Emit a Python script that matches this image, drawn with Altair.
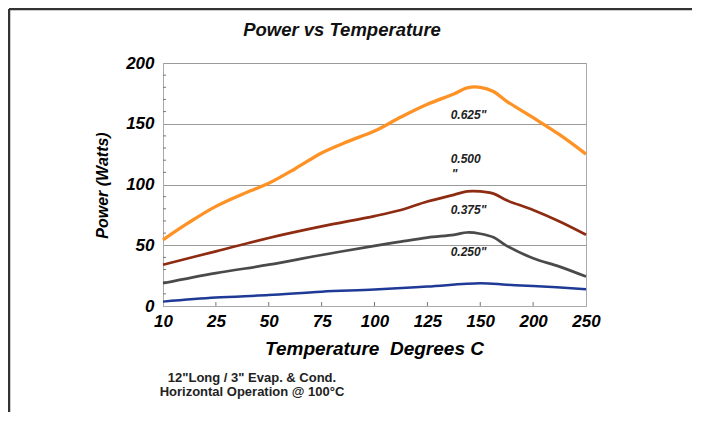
import altair as alt
import pandas as pd

# ---------------- data ----------------
temp_labels = ["10", "25", "50", "75", "100", "125", "150", "200", "250"]

orange_x = [0, 0.5, 1, 1.5, 2, 2.5, 3, 3.5, 4, 4.5, 5, 5.5, 5.75, 6, 6.25, 6.5, 7, 7.5, 8]
orange_y = [54.5, 69, 82, 92, 101, 113, 126, 135.5, 144, 155.5, 166, 174.5, 179.5, 180, 176.5, 168.5, 155, 141, 125]

brown_x = [0, 1, 2, 3, 4, 4.5, 5, 5.5, 5.75, 6, 6.25, 6.5, 7, 7.5, 8]
brown_y = [34, 45, 56, 65.5, 74, 79, 86, 91.5, 94.3, 94.3, 92.5, 87, 79, 69.5, 58.6]

gray_x = [0, 1, 2, 3, 4, 4.5, 5, 5.5, 5.75, 6, 6.25, 6.5, 7, 7.5, 8]
gray_y = [18.7, 27, 34, 42, 49.5, 53, 56.3, 58.6, 60.5, 59.5, 56.5, 49.5, 39.3, 32.4, 24.2]

blue_x = [0, 1, 2, 3, 4, 5, 6, 6.5, 7, 8]
blue_y = [3.6, 6.9, 9, 11.8, 13.5, 16, 18.7, 17.5, 16.5, 13.8]

series_names = ["s_orange", "s_brown", "s_gray", "s_blue"]
series_colors = ["#FF9224", "#8E2C12", "#4a4a4a", "#1E3A96"]
series_widths = [3.3, 2.7, 2.7, 2.5]

label_text = ['0.625"', "0.500", '"', '0.375"', '0.250"']
label_x = [5.44, 5.44, 5.46, 5.44, 5.44]
label_y = [157.5, 121, 109, 79, 44.5]

y_minor = [10, 20, 30, 40, 60, 70, 80, 90, 110, 120, 130, 140, 160, 170, 180, 190]
x_ticks = [1, 2, 3, 4, 5, 6, 7]

title_text = "Power vs Temperature"
footnote = ['12"Long / 3" Evap. & Cond.', "Horizontal Operation @ 100\u00b0C"]

# ---------------- build tables ----------------
rows = []
for name, xs, ys, sw in zip(series_names,
                            [orange_x, brown_x, gray_x, blue_x],
                            [orange_y, brown_y, gray_y, blue_y],
                            series_widths):
    for xv, yv in zip(xs, ys):
        rows.append({"series": name, "idx": xv, "power": yv, "sw": sw})
df = pd.DataFrame(rows)
df_labels = pd.DataFrame({"text": label_text, "idx": label_x, "power": label_y})
df_minor = pd.DataFrame({"power": y_minor})
df_xt = pd.DataFrame({"idx": x_ticks})
df_foot = pd.DataFrame({"text": footnote, "row": [0, 1]})
df_title = pd.DataFrame({"text": [title_text]})

W, H = 423, 243
FONT = "Liberation Sans"

label_expr = "[" + ",".join("'%s'" % t for t in temp_labels) + "][datum.value]"

x_enc = alt.X("idx:Q",
              scale=alt.Scale(domain=[0, 8], nice=False, zero=False),
              axis=alt.Axis(values=list(range(9)), labelExpr=label_expr,
                            title="Temperature\u00a0\u00a0Degrees C", grid=False, ticks=False,
                            labelFontSize=17, labelFont=FONT, labelFontWeight="bold",
                            labelFontStyle="italic", labelColor="black", labelPadding=7,
                            labelFlush=False,
                            titleFontSize=19, titleFont=FONT, titleFontWeight="bold",
                            titleFontStyle="italic", titleColor="black",
                            titleX=211, titleY=42, titleBaseline="middle",
                            domainColor="#aaaaaa"))
y_enc = alt.Y("power:Q",
              scale=alt.Scale(domain=[0, 200], nice=False),
              axis=alt.Axis(values=[0, 50, 100, 150, 200], title="Power (Watts)",
                            grid=True, gridColor="#9a9a9a", gridWidth=1, ticks=False,
                            labelFontSize=17, labelFont=FONT, labelFontWeight="bold",
                            labelFontStyle="italic", labelColor="black", labelPadding=9,
                            labelFlush=False,
                            titleFontSize=16, titleFont=FONT, titleFontWeight="bold",
                            titleFontStyle="italic", titleColor="black",
                            titleX=-61, titleY=122, titleBaseline="middle",
                            domainColor="#aaaaaa"))

lines = alt.Chart(df).mark_line(interpolate="catmull-rom").encode(
    x=x_enc, y=y_enc,
    color=alt.Color("series:N", scale=alt.Scale(domain=series_names, range=series_colors),
                    legend=None),
    strokeWidth=alt.StrokeWidth("sw:Q", scale=None, legend=None),
    detail="series:N",
)

labels = alt.Chart(df_labels).mark_text(
    align="left", baseline="middle", font=FONT, fontSize=12,
    fontWeight="bold", fontStyle="italic", color="#222"
).encode(x="idx:Q", y="power:Q", text="text:N")

yticks = alt.Chart(df_minor).mark_rule(color="#777", strokeWidth=1).encode(
    y="power:Q", x=alt.value(0), x2=alt.value(3))

xticks = alt.Chart(df_xt).mark_rule(color="#777", strokeWidth=1).encode(
    x="idx:Q", y=alt.value(H), y2=alt.value(H - 4))

title = alt.Chart(df_title).mark_text(
    align="center", baseline="middle", font=FONT, fontSize=18.5, fontWeight="bold",
    fontStyle="italic", color="#111"
).encode(x=alt.value(342 - 163), y=alt.value(30 - 63), text="text:N")

foot = alt.Chart(df_foot).mark_text(
    align="center", baseline="middle", font=FONT, fontSize=13, fontWeight="bold",
    color="#222"
).encode(x=alt.value(252 - 163), y=alt.value(378 - 63),
         text="text:N").transform_filter("datum.row == 0")
foot2 = alt.Chart(df_foot).mark_text(
    align="center", baseline="middle", font=FONT, fontSize=13, fontWeight="bold",
    color="#222"
).encode(x=alt.value(252 - 163), y=alt.value(392 - 63),
         text="text:N").transform_filter("datum.row == 1")

frame_top = alt.Chart(pd.DataFrame({"a": [0]})).mark_rule(color="#333", strokeWidth=2.5).encode(
    x=alt.value(-154), x2=alt.value(530), y=alt.value(-54))
frame_left = alt.Chart(pd.DataFrame({"a": [0]})).mark_rule(color="#333", strokeWidth=2.5).encode(
    x=alt.value(-154), y=alt.value(-54), y2=alt.value(380))

chart = alt.layer(yticks, xticks, lines, labels, title, foot, foot2,
                  frame_top, frame_left).properties(
    width=W, height=H,
    autosize=alt.AutoSizeParams(type="none"),
    padding={"left": 155, "top": 55, "right": 106, "bottom": 106},
).configure_view(stroke="#aaaaaa", strokeWidth=1)

chart.save("out.html", embed_options={"renderer": "svg", "actions": False})
